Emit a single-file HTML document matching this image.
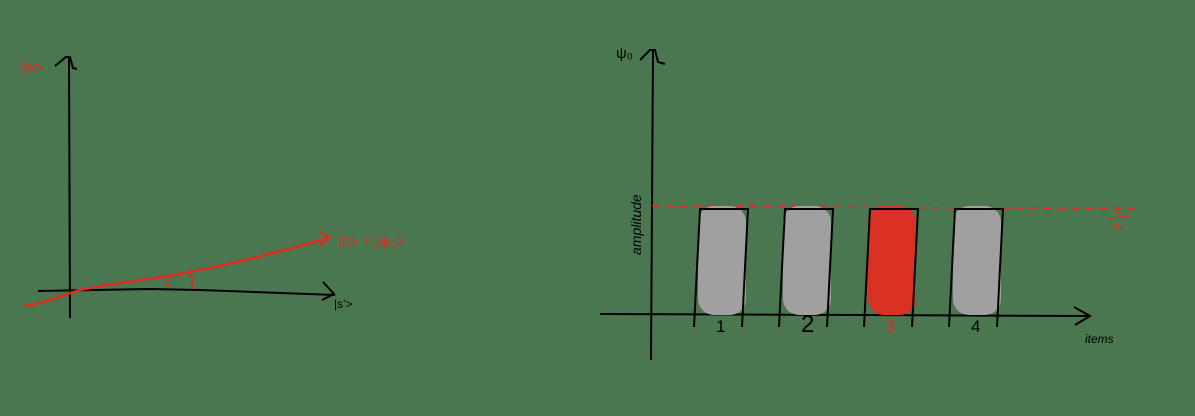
<!DOCTYPE html>
<html><head><meta charset="utf-8"><style>
html,body{margin:0;padding:0;background:#4a7650;}
svg{display:block}
text{font-family:"Liberation Sans",sans-serif;}
</style></head><body>
<svg width="1195" height="416" viewBox="0 0 1195 416">
<rect width="1195" height="416" fill="#4a7650"/>
<g>
 <path d="M69 57 L70 318" stroke="#000" stroke-width="2" fill="none"/>
 <path d="M55 66 L66 57 L70 57 L73 68 L77 69" stroke="#000" stroke-width="2" fill="none"/>
 <path d="M38 291 L150 289 L200 290 L335 295" stroke="#000" stroke-width="2" fill="none"/>
 <path d="M323 282 L334 294 L322 300" stroke="#000" stroke-width="2" fill="none"/>
 <path d="M24 306 C45 303 60 296 80 290 C110 283 150 280 190 272 C240 262 280 252 328 238" stroke="#e02a20" stroke-width="2.5" fill="none"/>
 <path d="M320 232 L330 238 L320 246" stroke="#e02a20" stroke-width="2" fill="none"/>
 <path d="M188 270 Q194 280 192 289" stroke="#e02a20" stroke-width="1.5" fill="none"/>
 <text x="164" y="288" fill="#e02a20" font-size="11">θ</text>
 <text x="20" y="72" fill="#e02a20" font-size="15">|w&gt;</text>
 <text x="338" y="246" fill="#e02a20" font-size="15">|s&gt; = |ψ₀&gt;</text>
 <text x="334" y="308" fill="#000" font-size="12">|s'&gt;</text>
</g>
<g id="chart">
 <path d="M653 50 L651 360" stroke="#000" stroke-width="2" fill="none"/>
 <path d="M640 60 L650 50 L655 50 L658 62 L665 64" stroke="#000" stroke-width="2" fill="none"/>
 <path d="M600 314 L1090 316" stroke="#000" stroke-width="2" fill="none"/>
 <path d="M1074 307 L1090 316 L1075 325" stroke="#000" stroke-width="2" fill="none"/>
 <text x="616" y="58" fill="#000" font-size="15">ψ₀</text>
 <text transform="translate(641,255) rotate(-90)" fill="#000" font-size="14" font-style="italic">amplitude</text>
 <text x="1085" y="343" fill="#000" font-size="12" font-style="italic">items</text>
 <text x="1115" y="213" fill="#e02a20" font-size="10">1</text>
 <path d="M1108 218 L1130 216" stroke="#e02a20" stroke-width="1.2"/>
 <text x="1110" y="230" fill="#e02a20" font-size="10">√N</text>
</g>
</svg>
<script>
const categories = ["1","2","3","4"];
const amplitudes = [1, 1, 1, 1];
const marked = [false, false, true, false];
const refLevel = [1];
const svgNS = "http://www.w3.org/2000/svg";
const g = document.getElementById('chart');
const x0 = 652, y0 = 315, yTop = 206, step = 85, firstX = 722, bw = 50;
function xs(i){ return firstX + i * step; }
function ys(v){ return y0 - v * (y0 - yTop); }
const ref = document.createElementNS(svgNS,'path');
ref.setAttribute('d', `M${x0} ${ys(refLevel[0])} L1140 ${ys(refLevel[0])+3}`);
ref.setAttribute('stroke','#e02a20'); ref.setAttribute('stroke-width','1.5');
ref.setAttribute('stroke-dasharray','8 6'); ref.setAttribute('fill','none');


g.appendChild(ref);
categories.forEach((c,i)=>{
  const cx = xs(i), top = ys(amplitudes[i]);
  const fill = document.createElementNS(svgNS,'rect');
  fill.setAttribute('x', cx - bw/2 + 1); fill.setAttribute('y', top);
  fill.setAttribute('width', bw - 2); fill.setAttribute('height', y0 - top);
  fill.setAttribute('rx', 16);
  fill.setAttribute('fill', marked[i] ? '#d93224' : '#a0a0a0');
  
  
  g.appendChild(fill);
  const out = document.createElementNS(svgNS,'path');
  out.setAttribute('d', `M${cx-28} ${y0+12} L${cx-22} ${top+3} L${cx+26} ${top+3} L${cx+20} ${y0+12}`);
  out.setAttribute('stroke','#000'); out.setAttribute('stroke-width','2'); out.setAttribute('fill','none');
  
  
  g.appendChild(out);
  const t = document.createElementNS(svgNS,'text');
  t.setAttribute('x', cx - 6); t.setAttribute('y', y0 + 17);
  t.setAttribute('font-size', i===1 ? 24 : 17);
  t.setAttribute('fill', marked[i] ? '#e02a20' : '#000');
  t.textContent = c;
  
  
  g.appendChild(t);
});
</script>
</body></html>
